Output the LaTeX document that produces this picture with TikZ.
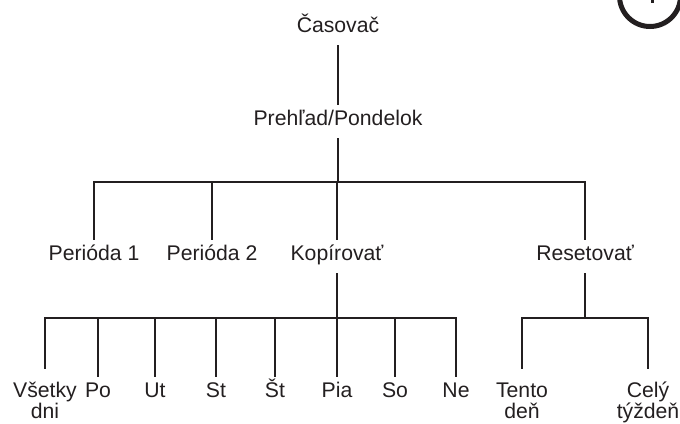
\documentclass[tikz,border=0pt]{standalone}
\usepackage{fontspec}
\setmainfont{Liberation Sans}
\definecolor{ink}{HTML}{231F20}

\begin{document}
\begin{tikzpicture}[
    x=1pt, y=-1pt,
    menu/.style={anchor=base, inner xsep=0pt, inner ysep=13pt, text height=0.72em, text depth=0pt, align=center, text=ink, font=\fontsize{21.2}{25}\selectfont},
    menutwo/.style={menu, font=\fontsize{21.2}{21.5}\selectfont, text height=36.8pt},
    link/.style={draw=ink, line width=2.4pt}
]
\useasboundingbox (0,0) rectangle (680,423);
\clip (0,0) rectangle (680,423);

% Top of the menu
\node[menu] (timer) at (338,32) {Časovač};
\node[menu] (overview) at (338,125) {Prehľad/Pondelok};
\draw[link] (timer) -- (overview);

% Second level
\node[menu] (period1) at (94,260) {Perióda 1};
\node[menu] (period2) at (212,260) {Perióda 2};
\node[menu] (copy) at (337,260) {Kopírovať};
\node[menu] (reset) at (585,260) {Resetovať};
\coordinate (fork1) at (337,182);
\draw[link] (overview) -- (overview |- fork1);
\draw[link] (period1) |- (fork1) -| (reset);
\draw[link] (period2) -- (period2 |- fork1);
\draw[link] (copy) -- (fork1);

% Days to copy
\node[menutwo] (all) at (45,418.5) {Všetky\\dni};
\node[menu] (mon) at (98,397) {Po};
\node[menu] (tue) at (155,397) {Ut};
\node[menu] (wed) at (216,397) {St};
\node[menu] (thu) at (275,397) {Št};
\node[menu] (fri) at (337,397) {Pia};
\node[menu] (sat) at (395,397) {So};
\node[menu] (sun) at (456,397) {Ne};
\coordinate (fork2) at (337,318);
\draw[link] (copy) -- (fork2);
\draw[link] (all) |- (fork2) -| (sun);
\foreach \day in {mon,tue,wed,thu,fri,sat}
    \draw[link] (\day) -- (\day |- fork2);

% Reset choices
\node[menutwo] (today) at (522,418.5) {Tento\\deň};
\node[menutwo] (week) at (648,418.5) {Celý\\týždeň};
\coordinate (fork3) at (585,318);
\draw[link] (reset) -- (fork3);
\draw[link] (today) |- (fork3) -| (week);

% Corner badge, cut by the page edge
\draw[ink, line width=5pt] (650,-4) circle[radius=30.5];
\draw[ink, line width=3pt] (652,-10) -- (652,3);
\end{tikzpicture}
\end{document}
